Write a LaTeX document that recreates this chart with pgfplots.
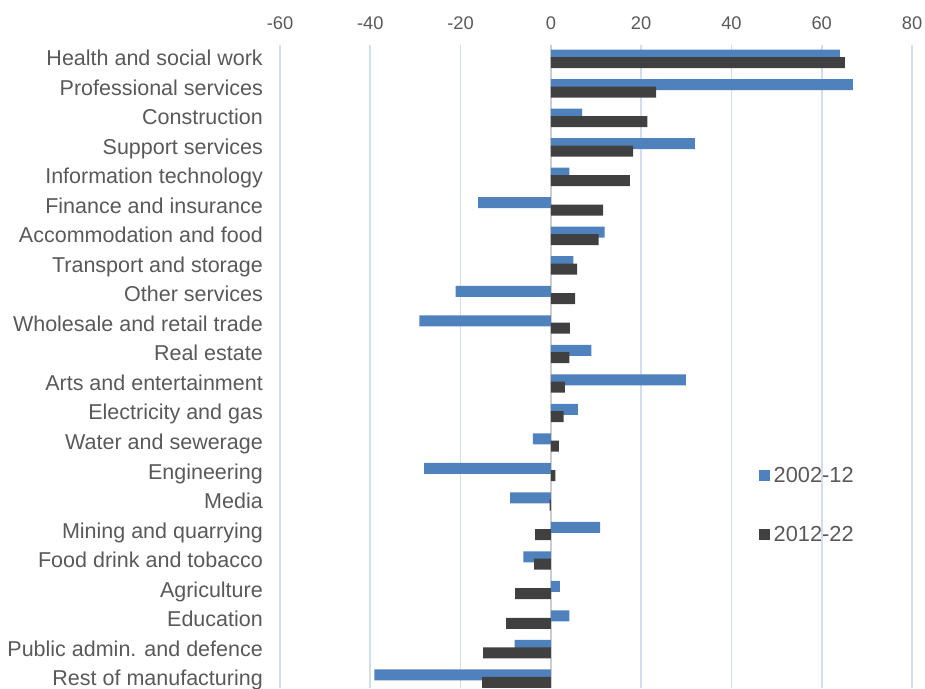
\documentclass[border=0pt]{standalone}
\usepackage{fontspec}
\setmainfont{Liberation Sans}
\usepackage{pgfplots}
\usepackage{pgfplotstable}
\pgfplotsset{compat=1.18}
\definecolor{barblue}{RGB}{79,129,189}
\definecolor{bardark}{RGB}{64,64,64}
\definecolor{txt}{RGB}{89,89,89}
\definecolor{gridc}{RGB}{210,222,240}
\definecolor{zeroc}{RGB}{205,205,205}
\pgfplotstableread{
idx a b
0 64.0 65.1
1 66.9 23.3
2 6.9 21.4
3 31.9 18.2
4 4.1 17.5
5 -16.1 11.6
6 11.9 10.6
7 5.0 5.8
8 -21.1 5.4
9 -29.1 4.2
10 9.0 4.1
11 29.9 3.1
12 6.0 2.8
13 -4.0 1.8
14 -28.1 1.0
15 -9.0 -0.3
16 10.9 -3.5
17 -6.1 -3.7
18 2.0 -7.9
19 4.1 -9.9
20 -8.0 -15.0
21 -39.1 -15.2
}\data
\begin{document}
\begin{tikzpicture}
\begin{axis}[
  at={(280pt,-45pt)}, anchor=north west,
  scale only axis, width=632pt, height=643pt,
  xmin=-60, xmax=80, ymin=-0.47, ymax=21.32, y dir=reverse,
  xbar, bar width=11pt,
  xtick={-60,-40,...,80},
  xticklabels={-60,-40,-20,0,20,40,60,80},
  xticklabel pos=upper,
  ytick={0,...,21},
  yticklabels={Health and social work,Professional services,Construction,Support services,Information technology,Finance and insurance,Accommodation and food,Transport and storage,Other services,Wholesale and retail trade,Real estate,Arts and entertainment,Electricity and gas,Water and sewerage,Engineering,Media,Mining and quarrying,Food drink and tobacco,Agriculture,Education,Public admin. and defence,Rest of manufacturing},
  xmajorgrids, grid style={gridc, line width=1.6pt},
  extra x ticks={0}, extra x tick labels={},
  extra x tick style={grid style={zeroc, line width=1.3pt}},
  axis line style={draw=none}, major tick length=0pt,
  yticklabel style={font=\fontsize{21.5}{24}\selectfont, text=txt, anchor=base east, inner sep=0pt, xshift=-17pt, yshift=-7pt},
  xticklabel style={font=\fontsize{18.3}{21}\selectfont, text=txt, anchor=base, inner sep=0pt, yshift=15.5pt},
  legend image code/.code={\draw[#1,draw=none] (0pt,-5.5pt) rectangle (11pt,5.5pt);},
  legend style={at={(axis cs:46,13.83)}, anchor=north west, draw=none, fill=none, inner sep=0pt,
    font=\fontsize{21.8}{24}\selectfont, text=txt, row sep=42pt, nodes={inner sep=0pt},
    /tikz/every odd column/.append style={column sep=4pt}},
  legend cell align=left,
]
\addplot[fill=barblue, draw=none, bar shift=3.7pt] table[x=a, y=idx]{\data};
\addplot[fill=bardark, draw=none, bar shift=-3.7pt] table[x=b, y=idx]{\data};
\legend{2002-12, 2012-22}
\end{axis}
\pgfresetboundingbox
\useasboundingbox (0pt,0pt) rectangle (925pt,-688pt);
\end{tikzpicture}
\end{document}
